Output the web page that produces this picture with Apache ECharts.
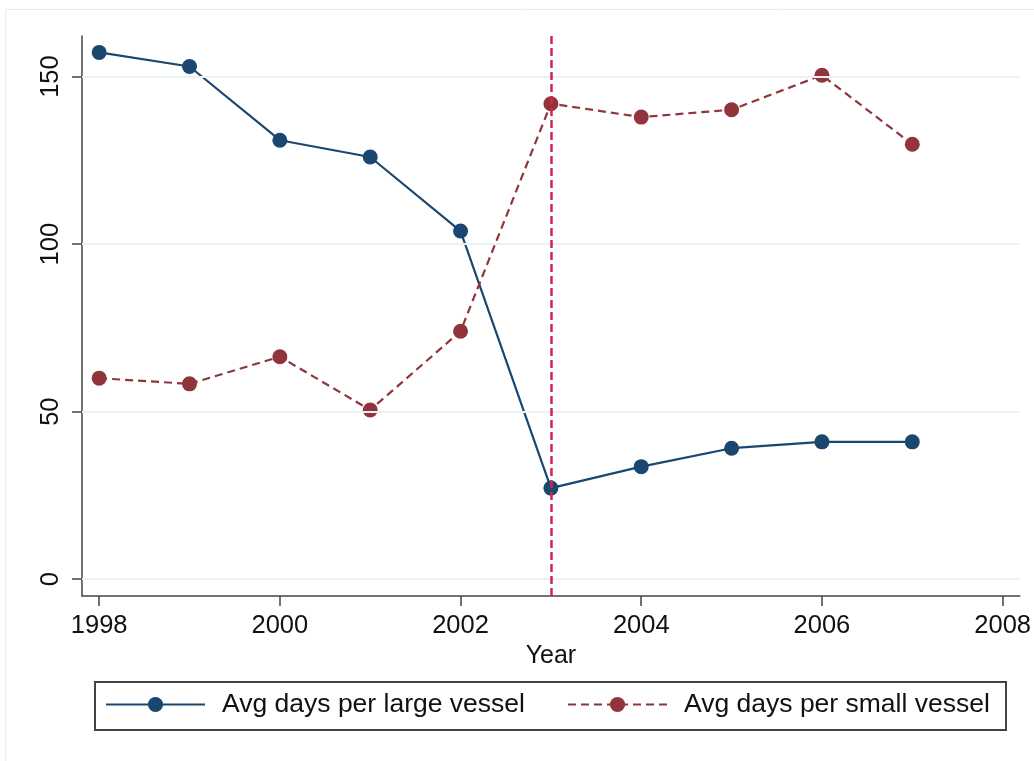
<!DOCTYPE html>
<html>
<head>
<meta charset="utf-8">
<script src="https://cdn.jsdelivr.net/npm/echarts@6/dist/echarts.min.js"></script>
<style>
html,body{margin:0;padding:0;background:#fff;}
#chart{width:1034px;height:761px;}
</style>
</head>
<body>
<div id="chart"></div>
<script>
var years = [1998, 1999, 2000, 2001, 2002, 2003, 2004, 2005, 2006, 2007];
var largeVessel = [157.2, 153.0, 131.0, 126.0, 103.9, 27.2, 33.6, 39.1, 41.0, 41.0];
var smallVessel = [60.0, 58.3, 66.4, 50.5, 74.0, 141.9, 137.9, 140.1, 150.4, 129.8];
var xTicks = [1998, 2000, 2002, 2004, 2006, 2008];
var yTicks = [0, 50, 100, 150];
var cutoffYear = 2003;
var seriesNames = ['Avg days per large vessel', 'Avg days per small vessel'];

var FONT = 'Liberation Sans, Arial, sans-serif';
var chart = echarts.init(document.getElementById('chart'), null, {renderer: 'canvas'});

function pairs(xs, ys) { return xs.map(function (x, i) { return [x, ys[i]]; }); }

var option = {
  animation: false,
  backgroundColor: '#ffffff',
  grid: {left: 82, top: 36, right: 14, bottom: 165, containLabel: false},
  graphic: [
    {type: 'rect', silent: true, z: -10, shape: {x: 5.5, y: 9.5, width: 1100, height: 800},
     style: {fill: null, stroke: '#ececec', lineWidth: 1}},
    {type: 'rect', silent: true, z: 10, shape: {x: 95, y: 682, width: 911, height: 48},
     style: {fill: null, stroke: '#444444', lineWidth: 2}}
  ],
  xAxis: {
    type: 'value', min: 1997.81, max: 2008.19,
    name: 'Year', nameLocation: 'middle', nameGap: 42,
    nameTextStyle: {fontFamily: FONT, fontSize: 25, color: '#111'},
    axisLine: {show: true, onZero: false, lineStyle: {color: '#444', width: 1.5}},
    axisTick: {show: true, length: 10, customValues: xTicks, lineStyle: {color: '#444', width: 1.5}},
    axisLabel: {customValues: xTicks, margin: 17, fontFamily: FONT, fontSize: 25.5, color: '#111',
                formatter: function (v) { return String(v); }},
    splitLine: {show: false}
  },
  yAxis: {
    type: 'value', min: -5, max: 162.1,
    axisLine: {show: true, onZero: false, lineStyle: {color: '#444', width: 1.5}},
    axisTick: {show: true, length: 10, customValues: yTicks, lineStyle: {color: '#444', width: 1.5}},
    axisLabel: {customValues: yTicks, rotate: 90, margin: 18, fontFamily: FONT, fontSize: 25.5, color: '#111'},
    splitLine: {show: false}
  },
  legend: [
    {data: [seriesNames[0]], left: 105, top: 691, padding: 0, itemWidth: 99, itemHeight: 19,
     textStyle: {fontFamily: FONT, fontSize: 26.5, color: '#111', padding: [0, 0, 0, 12]}},
    {data: [seriesNames[1]], left: 567, top: 691, padding: 0, itemWidth: 99, itemHeight: 19,
     textStyle: {fontFamily: FONT, fontSize: 26.5, color: '#111', padding: [0, 0, 0, 12]}}
  ],
  series: [
    {
      name: 'refs', type: 'line', data: [], z: 1, silent: true,
      markLine: {
        silent: true, symbol: 'none', label: {show: false}, animation: false,
        data: yTicks.map(function (v) {
          return {yAxis: v, lineStyle: {color: '#e9f1f3', width: 2, type: 'solid'}};
        }).concat([{xAxis: cutoffYear, lineStyle: {color: '#d2254f', width: 2.5, type: [8, 4]}}])
      }
    },
    {
      name: seriesNames[0], type: 'line', z: 3,
      data: pairs(years, largeVessel),
      symbol: 'circle', symbolSize: 15,
      itemStyle: {color: '#1a476f'},
      lineStyle: {color: '#1a476f', width: 2.2}
    },
    {
      name: seriesNames[1], type: 'line', z: 3,
      data: pairs(years, smallVessel),
      symbol: 'circle', symbolSize: 15,
      itemStyle: {color: '#90353b'},
      lineStyle: {color: '#90353b', width: 2.2, type: [8, 5]}
    }
  ]
};
chart.setOption(option);
</script>
</body>
</html>
